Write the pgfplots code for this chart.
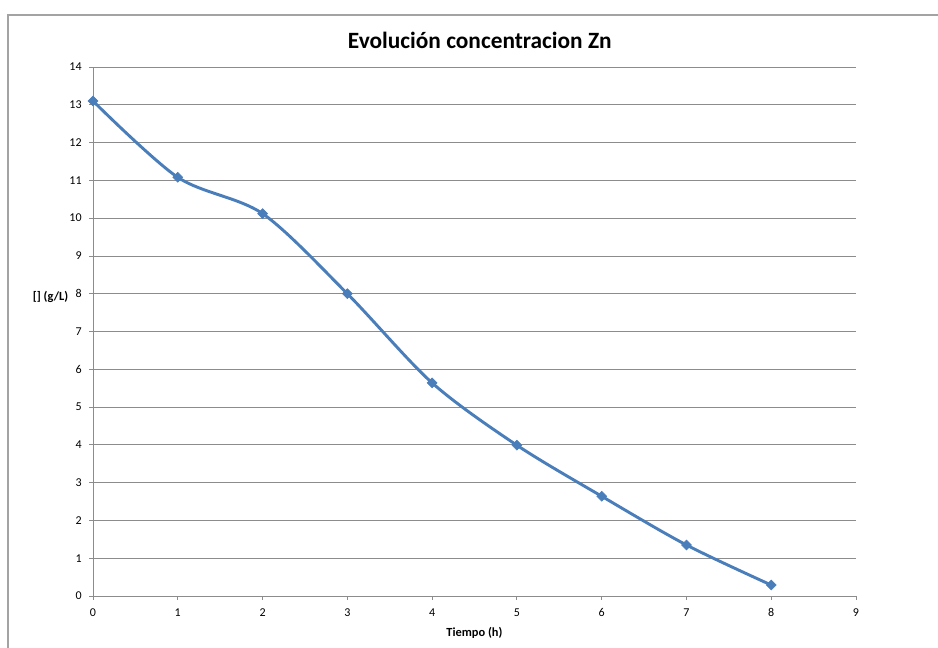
\documentclass[border=0pt]{standalone}
\usepackage{pgfplots}
\pgfplotsset{compat=1.18}
\usepackage{fontspec}
\setmainfont{Carlito}
\definecolor{serie}{HTML}{4A7EBB}
\definecolor{gridc}{HTML}{8C8C8C}
\begin{document}
\begin{tikzpicture}
\useasboundingbox (0pt,0pt) rectangle (703.5pt,486pt);
\begin{scope}
\clip (0pt,0pt) rectangle (703.5pt,486pt);
\draw[gridc!80, line width=0.8pt] (6pt,-10pt) -- (6pt,474.75pt) -- (720pt,474.75pt);
\end{scope}
\begin{axis}[
  at={(69.75pt,39pt)}, anchor=south west,
  scale only axis, width=572.25pt, height=396.75pt,
  xmin=0, xmax=9, ymin=0, ymax=14,
  xtick={0,...,9}, ytick={0,...,14},
  axis x line*=bottom, axis y line*=left,
  axis line style={gridc, line width=0.6pt, -},
  tick style={gridc, line width=0.6pt},
  tick align=outside, major tick length=3pt,
  ymajorgrids, grid style={gridc, line width=0.6pt},
  /pgf/number format/assume math mode=true,
  ticklabel style={font=\fontsize{9}{11}\selectfont},
  xticklabel style={yshift=-3pt},
  yticklabel style={xshift=-2pt},
  title={\bfseries Evolución concentracion Zn},
  title style={font=\fontsize{17.5}{20}\selectfont, yshift=4pt, xshift=4pt},
  xlabel={\bfseries Tiempo (h)},
  xlabel style={font=\fontsize{9.3}{11}\selectfont, yshift=-1pt},
  ylabel={\bfseries [] (g/L)},
  ylabel style={font=\fontsize{9.3}{11}\selectfont, rotate=-90, anchor=east, at={(rel axis cs:0,0.565)}, xshift=-15pt},
  clip=false,
]
\addplot[serie, line width=2.2pt, smooth, tension=0.5, mark=square*, mark size=2.6pt, mark options={fill=serie, line width=0.5pt, rotate=45}]
  coordinates {(0,13.1) (1,11.08) (2,10.12) (3,8.0) (4,5.64) (5,3.99) (6,2.64) (7,1.35) (8,0.29)};
\end{axis}
\end{tikzpicture}
\end{document}
